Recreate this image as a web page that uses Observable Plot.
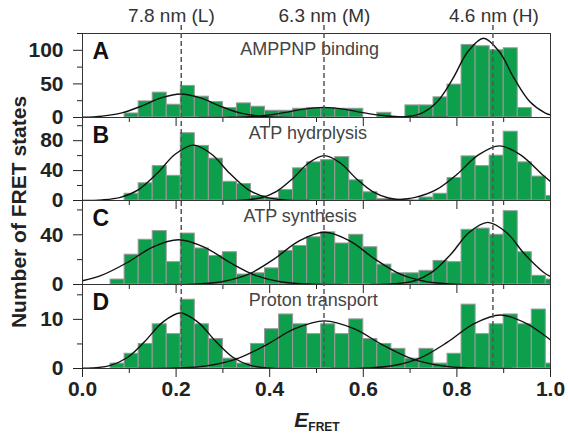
<!DOCTYPE html>
<html>
<head>
<meta charset="utf-8">
<script src="https://cdn.jsdelivr.net/npm/d3@7"></script>
<script src="https://cdn.jsdelivr.net/npm/@observablehq/plot@0.6"></script>
<style>
  body { margin: 0; background: white; }
  #chart { position: relative; width: 568px; height: 444px; font-family: "Liberation Sans", Arial, sans-serif; }
  #chart > svg { position: absolute; left: 0; }
  .ylab { position: absolute; left: 19px; top: 212px; transform: translate(-50%, -50%) rotate(-90deg); white-space: nowrap; font-weight: bold; font-size: 21px; color: #222; }
  .xlab { position: absolute; left: 317px; top: 408px; transform: translateX(-50%); white-space: nowrap; font-weight: bold; color: #222; }
  .xlab i { font-size: 21px; }
  .xlab sub { font-size: 12px; font-style: normal; }
</style>
</head>
<body>
<div id="chart"></div>
<script>
// ---- data ----
const binStart = [0, 0.03, 0.06, 0.09, 0.12, 0.15, 0.18, 0.21, 0.24, 0.27, 0.30, 0.33, 0.36, 0.39, 0.42, 0.45, 0.48,
  0.51, 0.54, 0.57, 0.60, 0.63, 0.66, 0.69, 0.72, 0.75, 0.78, 0.81, 0.84, 0.87, 0.90, 0.93, 0.96, 0.99];
const binWidth = 0.03;

const countsA = [0, 0, 0, 6, 24, 37, 19, 47, 31, 23, 14, 21, 16, 10, 10, 13, 14, 14, 13, 13, 0, 7, 0, 18, 18, 30, 49, 108, 106, 100, 103, 14, 0, 0];
const countsB = [0, 0, 0, 9, 23, 46, 33, 90, 73, 56, 25, 22, 6, 3, 14, 43, 51, 54, 58, 27, 11, 2, 0, 0, 4, 9, 30, 59, 46, 60, 92, 51, 32, 6];
const countsC = [0, 0, 4, 24, 36, 43, 18, 41, 29, 23, 26, 8, 9, 13, 27, 31, 38, 42, 33, 40, 30, 16, 9, 9, 11, 19, 18, 44, 45, 40, 59, 26, 7, 4];
const countsD = [0, 0, 1, 3, 5, 9, 7, 14, 9, 6, 2, 1, 5, 8, 11, 9, 7, 9, 7, 10, 6, 5, 4, 2, 4, 1, 3, 13, 7, 9, 11, 9, 12, 1];

// fitted curves as [E_FRET, count]
const curveA_L = [[0,0.4],[0.042,2.0],[0.084,6.9],[0.126,17.0],[0.168,29.2],[0.21,35],[0.252,29.2],[0.294,17.0],[0.336,6.9],[0.378,2.0],[0.42,0.4],[0.476,0]];
const curveA_M = [[0.249,0],[0.305,0.2],[0.347,0.8],[0.389,3.0],[0.431,7.3],[0.473,12.5],[0.515,15],[0.557,12.5],[0.599,7.3],[0.641,3.0],[0.683,0.8],[0.725,0.2],[0.781,0]];
const curveA_H = [[0.648,0.1],[0.692,1.3],[0.725,6.6],[0.758,23.4],[0.791,57.4],[0.824,98.5],[0.857,118],[0.89,98.5],[0.923,57.4],[0.956,23.4],[0.989,6.6],[1.0,4.0]];
const curveB_L = [[0,0.1],[0.042,0.8],[0.081,4.2],[0.12,14.6],[0.159,36.0],[0.198,61.8],[0.237,74],[0.276,61.8],[0.315,36.0],[0.354,14.6],[0.393,4.2],[0.432,0.8],[0.484,0]];
const curveB_M = [[0.30,0],[0.346,0.7],[0.38,3.4],[0.414,11.9],[0.449,29.2],[0.483,50.1],[0.517,60],[0.551,50.1],[0.585,29.2],[0.62,11.9],[0.654,3.4],[0.688,0.7],[0.734,0]];
const curveB_H = [[0.606,0],[0.666,0.8],[0.711,4.1],[0.756,14.4],[0.801,35.5],[0.846,61.0],[0.891,73],[0.936,61.0],[0.981,35.5],[1.0,25.4]];
const curveC_L = [[0,3.0],[0.039,7.1],[0.095,17.5],[0.15,30.1],[0.205,36],[0.26,30.1],[0.316,17.5],[0.371,7.1],[0.426,2.0],[0.481,0.4],[0.555,0]];
const curveC_M = [[0.175,0],[0.247,0.5],[0.301,2.4],[0.355,8.3],[0.409,20.4],[0.463,35.1],[0.517,42],[0.571,35.1],[0.625,20.4],[0.679,8.3],[0.733,2.4],[0.787,0.5],[0.859,0]];
const curveC_H = [[0.615,0],[0.668,0.6],[0.708,2.8],[0.747,9.9],[0.787,24.3],[0.826,41.8],[0.866,50],[0.906,41.8],[0.945,24.3],[0.985,9.9],[1.0,6.4]];
const curveD_L = [[0,0.05],[0.02,0.1],[0.058,0.6],[0.096,2.24],[0.133,5.5],[0.171,9.4],[0.209,11.3],[0.247,9.4],[0.285,5.5],[0.322,2.24],[0.36,0.6],[0.398,0.1],[0.448,0]];
const curveD_M = [[0.118,0],[0.202,0.1],[0.265,0.54],[0.328,1.92],[0.391,4.72],[0.454,8.1],[0.517,9.7],[0.58,8.1],[0.643,4.72],[0.706,1.92],[0.769,0.54],[0.832,0.1],[0.916,0]];
const curveD_H = [[0.532,0],[0.608,0.1],[0.665,0.6],[0.722,2.16],[0.779,5.3],[0.836,9.1],[0.893,10.9],[0.95,9.1],[1.0,5.8]];

const panelLetters = ["A", "B", "C", "D"];
const panelTitles = ["AMPPNP binding", "ATP hydrolysis", "ATP synthesis", "Proton transport"];
const titleX = [0.337, 0.355, 0.344, 0.355];
const yMax = [125, 111, 67.6, 17.1];
const yMajorTicks = [[0, 50, 100], [0, 40, 80], [0, 40], [0, 10]];
const yMinorTicks = [[25, 75, 125], [20, 60, 100], [20, 60], [5, 15]];

const xMajorTicks = [0, 0.2, 0.4, 0.6, 0.8, 1.0];
const xTickLabels = ["0.0", "0.2", "0.4", "0.6", "0.8", "1.0"];
const xMinorTicks = [0.1, 0.3, 0.5, 0.7, 0.9];

const stateX = [0.211, 0.516, 0.877];
const stateLabels = ["7.8 nm (L)", "6.3 nm (M)", "4.6 nm (H)"];
const stateLabelX = [0.19, 0.517, 0.879];

// ---- layout ----
const W = 568, ML = 82, MR = 18;
const panelTop = [33, 117, 200, 284];
const panelH = [84, 83, 84, 84];
const GREEN = "#0e9f4c";
const baseStyle = {background: "transparent", overflow: "visible", fontFamily: "'Liberation Sans', Arial, sans-serif", fontSize: "21px", fontWeight: "bold", color: "#222"};

const chart = document.getElementById("chart");

const allCounts = [countsA, countsB, countsC, countsD];
const allCurves = [[curveA_L, curveA_M, curveA_H], [curveB_L, curveB_M, curveB_H], [curveC_L, curveC_M, curveC_H], [curveD_L, curveD_M, curveD_H]];

for (let p = 0; p < 4; p++) {
  const last = p === 3;
  const bars = binStart.map((x, i) => ({x1: x, x2: x + binWidth, count: allCounts[p][i]})).filter(d => d.count > 0);
  const mb = last ? 40 : 0;
  const svg = Plot.plot({
    width: W, height: panelH[p] + mb, marginLeft: ML, marginRight: MR, marginTop: 0, marginBottom: mb,
    x: {domain: [0, 1], axis: null},
    y: {domain: [0, yMax[p]], axis: null},
    style: baseStyle,
    marks: [
      Plot.rectY(bars, {x1: "x1", x2: "x2", y: "count", fill: GREEN, stroke: "#9a9a9a", strokeWidth: 1, clip: true}),
      ...allCurves[p].map(c => Plot.line(c, {x: d => d[0], y: d => d[1], curve: "catmull-rom", stroke: "#111", strokeWidth: 1.4, clip: true})),
      Plot.frame({stroke: "#333", strokeWidth: 1}),
      Plot.axisY(yMinorTicks[p].filter(t => t <= yMax[p]), {tickSize: 5, tickFormat: () => "", label: null}),
      Plot.axisY(yMajorTicks[p], {tickSize: 9, tickPadding: 10, label: null}),
      Plot.axisX(xMinorTicks, {tickSize: 5, tickFormat: () => "", label: null}),
      Plot.axisX(xMajorTicks, {tickSize: 9, tickPadding: 4, label: null,
        tickFormat: last ? (d => xTickLabels[xMajorTicks.indexOf(d)]) : (() => "")}),
      Plot.text([panelLetters[p]], {frameAnchor: "top-left", dx: 10, dy: 9, lineAnchor: "top", fontSize: 23, fontWeight: "bold", fill: "#111"}),
      Plot.text([panelTitles[p]], {x: [titleX[p]], frameAnchor: "top", textAnchor: "start", lineAnchor: "top", dy: 9, fontSize: 18, fontWeight: "normal", fill: "#444"})
    ]
  });
  svg.style.top = panelTop[p] + "px";
  chart.appendChild(svg);
}

// overlay: dashed state lines and their labels
const overlay = Plot.plot({
  width: W, height: 444, marginLeft: ML, marginRight: MR, marginTop: 25, marginBottom: 444 - 368,
  x: {domain: [0, 1], axis: null},
  style: baseStyle,
  marks: [
    Plot.ruleX(stateX, {stroke: "#555", strokeWidth: 1.5, strokeDasharray: "5,3"}),
    Plot.text(stateLabels, {x: stateLabelX, frameAnchor: "top", lineAnchor: "bottom", dy: -4, fontSize: 19, fontWeight: "normal", fill: "#333"})
  ]
});
overlay.style.top = "0px";
overlay.style.pointerEvents = "none";
chart.appendChild(overlay);

const ylab = document.createElement("div");
ylab.className = "ylab";
ylab.textContent = "Number of FRET states";
chart.appendChild(ylab);

const xlab = document.createElement("div");
xlab.className = "xlab";
xlab.innerHTML = "<i>E</i><sub>FRET</sub>";
chart.appendChild(xlab);
</script>
</body>
</html>
